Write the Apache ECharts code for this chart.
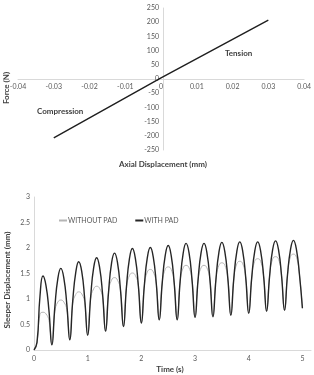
<!DOCTYPE html>
<html>
<head>
<meta charset="utf-8">
<script src="https://cdn.jsdelivr.net/npm/echarts@6/dist/echarts.min.js"></script>
<style>
  html, body { margin: 0; padding: 0; background: #fff; }
  #chart { width: 314px; height: 375px; }
</style>
</head>
<body>
<div id="chart"></div>
<script>
// top chart: force vs axial displacement
var dispMm = [-0.03, 0, 0.03];
var forceN = [-207, 4, 207];
var dispTicks = [-0.04, -0.03, -0.02, -0.01, 0, 0.01, 0.02, 0.03, 0.04];

// bottom chart: sleeper displacement over time
var timeS = [0, 0.056, 0.111, 0.167, 0.222, 0.278, 0.333, 0.389, 0.444, 0.5, 0.556, 0.611,
  0.667, 0.722, 0.778, 0.833, 0.889, 0.944, 1.0, 1.056, 1.111, 1.167, 1.222, 1.278,
  1.333, 1.389, 1.444, 1.5, 1.556, 1.611, 1.667, 1.722, 1.778, 1.833, 1.889, 1.944,
  2.0, 2.056, 2.111, 2.167, 2.222, 2.278, 2.333, 2.389, 2.444, 2.5, 2.556, 2.611,
  2.667, 2.722, 2.778, 2.833, 2.889, 2.944, 3.0, 3.056, 3.111, 3.167, 3.222, 3.278,
  3.333, 3.389, 3.444, 3.5, 3.556, 3.611, 3.667, 3.722, 3.778, 3.833, 3.889, 3.944,
  4.0, 4.056, 4.111, 4.167, 4.222, 4.278, 4.333, 4.389, 4.444, 4.5, 4.556, 4.611,
  4.667, 4.722, 4.778, 4.833, 4.889, 4.944, 5.0];
var withoutPad = [0, 0.15, 0.70, 0.74, 0.71, 0.58,
  0.10, 0.76, 0.94, 0.98, 0.94, 0.79,
  0.20, 0.91, 1.09, 1.14, 1.10, 0.93,
  0.29, 1.01, 1.20, 1.25, 1.21, 1.03,
  0.37, 1.14, 1.37, 1.42, 1.37, 1.18,
  0.46, 1.23, 1.46, 1.51, 1.46, 1.26,
  0.53, 1.27, 1.53, 1.58, 1.53, 1.30,
  0.59, 1.32, 1.58, 1.63, 1.58, 1.32,
  0.59, 1.34, 1.61, 1.66, 1.61, 1.37,
  0.64, 1.37, 1.61, 1.66, 1.61, 1.37,
  0.65, 1.38, 1.66, 1.71, 1.66, 1.40,
  0.68, 1.40, 1.69, 1.74, 1.69, 1.42,
  0.72, 1.42, 1.74, 1.79, 1.74, 1.44,
  0.76, 1.45, 1.78, 1.83, 1.78, 1.46,
  0.78, 1.47, 1.83, 1.88, 1.82, 1.49,
  0.82];
var withPad = [0, 0.15, 1.05, 1.45, 1.27, 0.78,
  0.10, 0.85, 1.40, 1.60, 1.41, 0.90,
  0.20, 0.97, 1.52, 1.73, 1.54, 1.01,
  0.29, 1.05, 1.61, 1.81, 1.62, 1.09,
  0.37, 1.14, 1.70, 1.90, 1.71, 1.18,
  0.46, 1.23, 1.79, 1.99, 1.79, 1.26,
  0.53, 1.27, 1.81, 2.01, 1.82, 1.30,
  0.59, 1.32, 1.85, 2.05, 1.85, 1.32,
  0.59, 1.34, 1.89, 2.09, 1.90, 1.37,
  0.64, 1.37, 1.90, 2.09, 1.90, 1.37,
  0.65, 1.38, 1.91, 2.11, 1.92, 1.40,
  0.68, 1.40, 1.93, 2.12, 1.93, 1.42,
  0.72, 1.42, 1.93, 2.12, 1.94, 1.44,
  0.76, 1.45, 1.96, 2.14, 1.96, 1.46,
  0.78, 1.47, 1.97, 2.15, 1.97, 1.49,
  0.82];
var seriesNames = ['WITHOUT PAD', 'WITH PAD'];

function pairs(xs, ys) {
  return xs.map(function (x, i) { return [x, ys[i]]; });
}

var font = 'Lato, "Liberation Sans", sans-serif';
var labelStyle = { color: '#595959', fontSize: 7, fontFamily: font };
var axisLine = { lineStyle: { color: '#d9d9d9', width: 1 } };
var titleStyle = { fill: '#404040', font: 'bold 8px ' + font };

var myChart = echarts.init(document.getElementById('chart'), null, { renderer: 'canvas' });
myChart.setOption({
  animation: false,
  grid: [
    { left: 18, width: 290, top: 8, height: 142 },
    { left: 34, right: 3, top: 197, height: 153 }
  ],
  xAxis: [
    {
      // axis line sits at force = 0 (middle of the grid)
      gridIndex: 0, type: 'value', position: 'bottom', offset: -71,
      min: dispTicks[0], max: dispTicks[dispTicks.length - 1], interval: 0.01,
      axisLine: Object.assign({ onZero: false }, axisLine),
      axisTick: { show: false }, splitLine: { show: false },
      axisLabel: Object.assign({ margin: 4, formatter: function (v) { return +v.toFixed(2); } }, labelStyle)
    },
    {
      gridIndex: 1, type: 'value', min: 0, max: 5.16, interval: 1,
      axisLine: axisLine, axisTick: { show: false }, splitLine: { show: false },
      axisLabel: Object.assign({ margin: 5, showMaxLabel: false }, labelStyle)
    }
  ],
  yAxis: [
    {
      // axis line sits at displacement = 0 (middle of the grid)
      gridIndex: 0, type: 'value', position: 'left', offset: -145,
      min: -250, max: 250, interval: 50,
      axisLine: Object.assign({ onZero: false }, axisLine),
      axisTick: { show: false }, splitLine: { show: false },
      axisLabel: Object.assign({ margin: 4 }, labelStyle)
    },
    {
      gridIndex: 1, type: 'value', min: 0, max: 3, interval: 0.5,
      axisLine: { show: true, lineStyle: { color: '#d9d9d9', width: 1 } },
      axisTick: { show: false }, splitLine: { show: false },
      axisLabel: Object.assign({ margin: 4 }, labelStyle)
    }
  ],
  legend: {
    data: seriesNames,
    left: 54, top: 212,
    itemWidth: 8, itemHeight: 2, itemGap: 18,
    icon: 'rect',
    textStyle: { color: '#595959', fontSize: 7, fontFamily: font, padding: [0, 0, 0, -4] }
  },
  series: [
    {
      type: 'line', xAxisIndex: 0, yAxisIndex: 0,
      data: pairs(dispMm, forceN),
      showSymbol: false, lineStyle: { color: '#1f1f1f', width: 1.4 }
    },
    {
      name: seriesNames[0], type: 'line', xAxisIndex: 1, yAxisIndex: 1,
      data: pairs(timeS, withoutPad), smooth: 0.5,
      showSymbol: false, itemStyle: { color: '#b5b5b5' },
      lineStyle: { color: '#b5b5b5', width: 1 }
    },
    {
      name: seriesNames[1], type: 'line', xAxisIndex: 1, yAxisIndex: 1,
      data: pairs(timeS, withPad), smooth: 0.5,
      showSymbol: false, itemStyle: { color: '#262626' },
      lineStyle: { color: '#262626', width: 1.4 }
    }
  ],
  graphic: [
    { type: 'text', left: 37, top: 107, style: Object.assign({ text: 'Compression' }, titleStyle) },
    { type: 'text', left: 225, top: 49, style: Object.assign({ text: 'Tension' }, titleStyle) },
    { type: 'text', x: 163, y: 164, style: Object.assign({ text: 'Axial Displacement (mm)', align: 'center', verticalAlign: 'middle' }, titleStyle) },
    { type: 'text', x: 6, y: 88, rotation: Math.PI / 2, style: Object.assign({ text: 'Force (N)', align: 'center', verticalAlign: 'middle' }, titleStyle) },
    { type: 'text', x: 170, y: 369, style: Object.assign({ text: 'Time (s)', align: 'center', verticalAlign: 'middle' }, titleStyle) },
    { type: 'text', x: 7, y: 280, rotation: Math.PI / 2, style: Object.assign({ text: 'Sleeper Displacement (mm)', align: 'center', verticalAlign: 'middle' }, titleStyle) }
  ]
});
</script>
</body>
</html>
